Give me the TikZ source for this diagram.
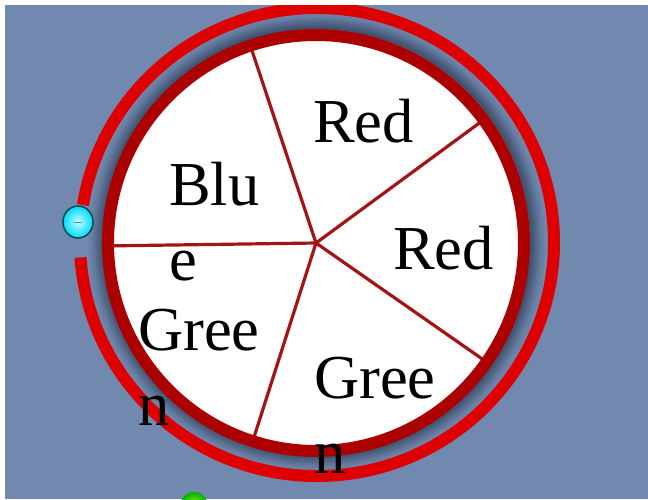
\documentclass[tikz,border=0pt]{standalone}
\usepackage{fontspec}
\setmainfont{Liberation Serif}
\definecolor{bgblue}{RGB}{113,136,175}
\definecolor{ringred}{RGB}{222,0,0}
\definecolor{rimred}{RGB}{172,0,0}
\definecolor{spokered}{RGB}{165,20,20}
\definecolor{rimshadow}{RGB}{58,76,104}
\tikzset{
  word/.style={anchor=base west,inner sep=0pt,font=\fontsize{62.5}{73}\selectfont},
  spoke/.style={spokered,line width=3.2pt}
}
\begin{document}
\begin{tikzpicture}[x=1pt,y=-1pt]
\useasboundingbox (0,0) rectangle (648,499);
\fill[white] (0,0) rectangle (648,499);
\fill[bgblue] (5,5) rectangle (648,499);
\begin{scope}
\clip (5,5) rectangle (648,499);
\coordinate (hub) at (316,243);
\coordinate (ringmid) at (317,242);
% shadow between rim and ring
\foreach \r/\p in {228/6,226/14,224/24,222/36,220/50,218/64,216/78,214/90}
  \draw[line width=2.3pt,rimshadow!\p!bgblue] (ringmid) circle[radius=\r pt];
% outer ring, open at the left
\draw[ringred,line width=12pt] (ringmid) ++(183.8:237pt and 234pt)
  arc[start angle=183.8,end angle=530.9,x radius=237pt,y radius=234pt];
% wheel
\fill[white] (hub) circle[radius=208pt];
\foreach \a in {36.3,108.4,180.8,252.3,325.1}
  \draw[spoke] (hub) -- ++(\a:205pt);
\draw[rimred,line width=12pt] (hub) circle[radius=208pt];
% handles
\shade[inner color=cyan!25,outer color=cyan!85!blue] (78,222) ellipse[x radius=15pt,y radius=16pt];
\draw[teal!60!black,line width=1.5pt] (78,222) ellipse[x radius=15pt,y radius=16pt];
\draw[gray,line width=1pt] (74,222) -- (82,222);
\shade[inner color=yellow!60!green,outer color=green!70!black] (194,506) circle[radius=14pt];
\end{scope}
\node[word] (redtop) at (313,142) {Red};
\node[word] (redright) at (393,269) {Red};
\node[word] (blu) at (169,205) {Blu};
\node[word] (blue) at (169,280) {e};
\node[word] (greeleft) at (138,350) {Gree};
\node[word] (nleft) at (138,425) {n};
\node[word] (greelow) at (314,398) {Gree};
\node[word] (nlow) at (314,473) {n};
\end{tikzpicture}
\end{document}
